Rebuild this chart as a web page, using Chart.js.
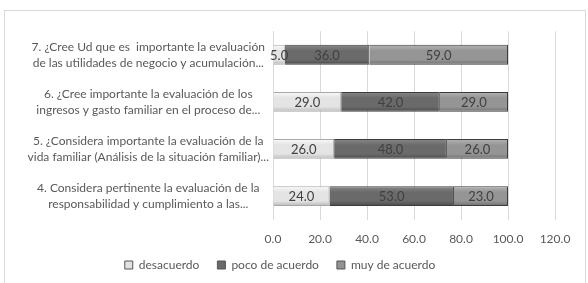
<!DOCTYPE html>
<html>
<head>
<meta charset="utf-8">
<script src="https://cdn.jsdelivr.net/npm/chart.js@4"></script>
<style>
  body { margin: 0; background: #fff; }
  #box { position: absolute; left: 4px; top: 10px; width: 580px; height: 273px; border: 1px solid #d9d9d9; border-bottom: none; }
</style>
</head>
<body>
<div id="box"><canvas id="myChart" width="580" height="273"></canvas></div>
<script>
var preguntas = [
  ["7. ¿Cree Ud que es  importante la evaluación", "de las utilidades de negocio y acumulación..."],
  ["6. ¿Cree importante la evaluación de los", "ingresos y gasto familiar en el proceso de..."],
  ["5. ¿Considera importante la evaluación de la", "vida familiar (Análisis de la situación familiar)..."],
  ["4. Considera pertinente la evaluación de la", "responsabilidad y cumplimiento a las..."]
]
var desacuerdo = [5, 29, 26, 24]
var poco = [36, 42, 48, 53]
var muy = [59, 29, 26, 23]
var ticks_x = [0, 20, 40, 60, 80, 100, 120]

var fuente = "Lato, 'Liberation Sans', sans-serif"
var solape = 17 // el eje x comparte espacio con la leyenda
var grosor = 0.42
var colores_leyenda = ["#e2e2e2", "#6a6a6a", "#939393"]

// relleno con brillo arriba y sombra abajo, como en la hoja de calculo
function degradado(claro, medio, oscuro){
  return function(c){
    var ch = c.chart, ys = ch.scales.y
    if (c.type !== 'data' || !ch.chartArea || !ys) return medio
    var y = ys.getPixelForValue(c.dataIndex)
    var h = Math.abs(ys.getPixelForValue(1) - ys.getPixelForValue(0)) * grosor
    if (!isFinite(y) || !isFinite(h)) return medio
    var g = ch.ctx.createLinearGradient(0, y - h / 2, 0, y + h / 2)
    g.addColorStop(0, claro)
    g.addColorStop(0.3, medio)
    g.addColorStop(0.75, medio)
    g.addColorStop(1, oscuro)
    return g
  }
}

// etiquetas en el centro de cada barra
var etiquetas = {
  id: 'etiquetas',
  afterLayout: function(chart){
    // devolver al eje su alto para que no recorte los números
    chart.scales.x.bottom += solape
  },
  afterDatasetsDraw: function(chart){
    var ctx = chart.ctx
    ctx.save()
    ctx.font = "13px " + fuente
    ctx.fillStyle = "#404040"
    ctx.textAlign = "center"
    ctx.textBaseline = "middle"
    chart.data.datasets.forEach(function(ds, i){
      chart.getDatasetMeta(i).data.forEach(function(bar, j){
        ctx.fillText(ds.data[j].toFixed(1), (bar.x + bar.base) / 2, bar.y + 1)
      })
    })
    ctx.restore()
  }
}

var chart = new Chart(document.getElementById("myChart"), {
  type: 'bar',
  data: {
    labels: preguntas,
    datasets: [
      { label: "desacuerdo", data: desacuerdo, backgroundColor: degradado("#fafafa", "#e4e4e4", "#b8b8b8"), borderColor: "#a8a8a8", borderWidth: 1 },
      { label: "poco de acuerdo", data: poco, backgroundColor: degradado("#8a8a8a", "#6a6a6a", "#4a4a4a"), borderColor: "#3c3c3c", borderWidth: 1 },
      { label: "muy de acuerdo", data: muy, backgroundColor: degradado("#b4b4b4", "#959595", "#707070"), borderColor: "#3c3c3c", borderWidth: 1 }
    ]
  },
  options: {
    indexAxis: 'y',
    responsive: false,
    animation: false,
    layout: { padding: { top: 14, right: 30, left: 0, bottom: 3 } },
    datasets: { bar: { barPercentage: grosor, categoryPercentage: 1 } },
    scales: {
      x: {
        stacked: true, min: 0, max: 120,
        afterBuildTicks: function(axis){ axis.ticks = ticks_x.map(function(v){ return { value: v } }) },
        afterFit: function(axis){ axis.height -= solape },
        ticks: { color: "#595959", font: { family: fuente, size: 12 }, padding: 12, callback: function(v){ return v.toFixed(1) } },
        grid: { color: "#d9d9d9", drawTicks: false },
        border: { display: false }
      },
      y: {
        stacked: true,
        afterFit: function(axis){ axis.width = 268 },
        ticks: { color: "#595959", font: { family: fuente, size: 12, lineHeight: 1.35 }, crossAlign: 'center', padding: 4 },
        grid: { display: false, drawTicks: false },
        border: { display: true, color: "#d9d9d9" }
      }
    },
    plugins: {
      legend: {
        position: 'bottom',
        labels: {
          color: "#595959", font: { family: fuente, size: 12 }, boxWidth: 8, boxHeight: 8, padding: 18,
          generateLabels: function(chart){
            var items = Chart.defaults.plugins.legend.labels.generateLabels(chart)
            items.forEach(function(it, i){ it.fillStyle = colores_leyenda[i]; it.strokeStyle = "#555555"; it.lineWidth = 1 })
            return items
          }
        }
      },
      tooltip: { enabled: false }
    }
  },
  plugins: [etiquetas]
})
</script>
</body>
</html>
